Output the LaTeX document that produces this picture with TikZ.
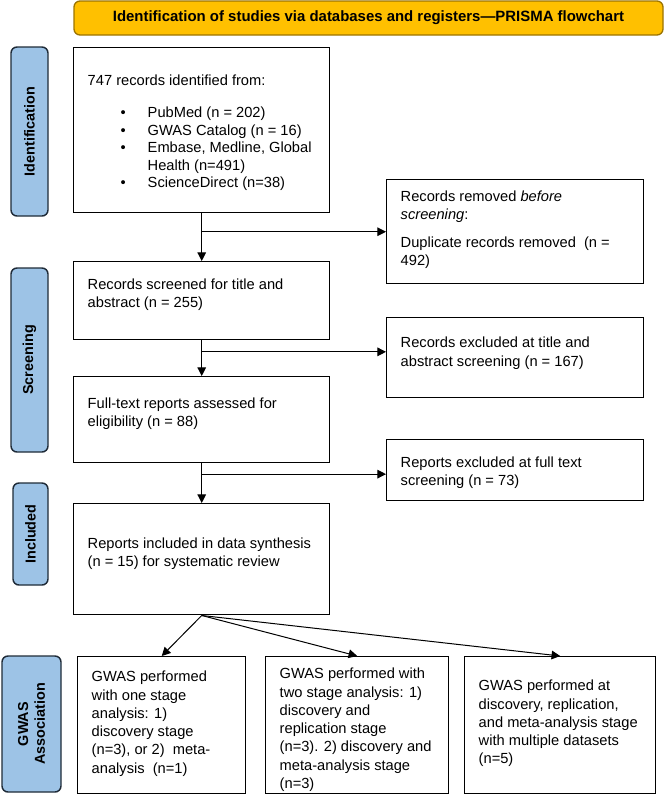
\documentclass[tikz,border=0pt]{standalone}
\usepackage{fontspec}
\setmainfont{Liberation Sans}
\usetikzlibrary{arrows.meta,calc}
\newdimen\pxu \pxu=0.75pt
\definecolor{bannerfill}{HTML}{FFC000}
\definecolor{bannerline}{HTML}{9C7400}
\definecolor{sidefill}{HTML}{9DC3E6}
\definecolor{sideline}{HTML}{1F2B38}
% #1 width px, #2 height px, #3 first baseline px, #4 baselineskip, #5 text
\newcommand{\bxt}[5]{\begin{minipage}[c][#2\pxu][t]{#1\pxu}\fontsize{11}{#4}\selectfont\raggedright\leftskip=14\pxu\vspace*{\dimexpr #3\pxu-\ht\strutbox\relax}\strut #5\end{minipage}}
\newcommand{\bul}[1]{\hspace*{33\pxu}\makebox[27\pxu][l]{\textbullet}#1}
\begin{document}
\begin{tikzpicture}[x=0.75pt,y=-0.75pt,
  flowbox/.style={draw, line width=1.1pt, inner sep=0pt, anchor=north west, rectangle},
  side/.style={draw=sideline, fill=sidefill, line width=1.1pt, rounded corners=6\pxu,
    font=\bfseries\fontsize{10.8}{12.5}\selectfont, align=center, inner sep=0pt, rotate=90},
  banner/.style={draw=bannerline, fill=bannerfill, line width=1pt, rounded corners=6\pxu,
    font=\bfseries\fontsize{11.2}{13}\selectfont, inner sep=0pt},
  arr/.style={-{Triangle[length=6.5pt,width=6.5pt]}, line width=0.75pt}]
\useasboundingbox (0,0) rectangle (666,801);

\node[banner, minimum width=589\pxu, minimum height=34\pxu] (ban) at (368.5,18)
  {Identification of studies via databases and registers—PRISMA flowchart};

\node[side, minimum width=169\pxu, minimum height=37\pxu] (sId) at (29.5,131.5) {Identification};
\node[side, minimum width=184\pxu, minimum height=37\pxu] (sSc) at (29.5,360) {Screening};
\node[side, minimum width=102\pxu, minimum height=35\pxu] (sIn) at (30.5,534) {Included};
\node[side, minimum width=136\pxu, minimum height=59\pxu] (sGw) at (31.5,724) {GWAS\\Association};

\node[flowbox] (b1) at (73,47) {\bxt{256}{165}{38}{13.1pt}{747 records identified from:\\[14.5\pxu]
  \bul{PubMed (n = 202)}\\
  \bul{GWAS Catalog (n = 16)}\\
  \bul{Embase, Medline, Global}\\
  \hspace*{60\pxu}Health (n=491)\\
  \bul{ScienceDirect (n=38)}}};
\node[flowbox] (b2) at (73,261) {\bxt{256}{78}{28}{13.5pt}{Records screened for title and\\abstract (n = 255)}};
\node[flowbox] (b3) at (73,376) {\bxt{256}{86}{32}{13.5pt}{Full-text reports assessed for\\eligibility (n = 88)}};
\node[flowbox] (b4) at (73,503) {\bxt{256}{111}{45}{13.5pt}{Reports included in data synthesis\\(n = 15) for systematic review}};

\node[flowbox] (rm) at (386,179) {\bxt{257}{104}{21.5}{13.5pt}{Records removed \textit{before}\\\textit{screening}:\\[10.5\pxu]
  Duplicate records removed\ \ (n =\\492)}};
\node[flowbox] (ex2) at (386,317) {\bxt{257}{80}{30}{14.2pt}{Records excluded at title and\\abstract screening (n = 167)}};
\node[flowbox] (ex3) at (386,439) {\bxt{257}{61}{27.5}{14pt}{Reports excluded at full text\\screening (n = 73)}};

\node[flowbox] (g1) at (77,656) {\bxt{168}{137}{25}{13.7pt}{GWAS performed\\with one stage\\analysis: 1)\\discovery stage\\(n=3), or 2)\ \ meta-\\analysis\ \ (n=1)}};
\node[flowbox] (g2) at (265,656) {\bxt{183}{137}{22}{13.7pt}{GWAS performed with\\two stage analysis: 1)\\discovery and\\replication stage\\(n=3). 2) discovery and\\meta-analysis stage\\(n=3)}};
\node[flowbox] (g3) at (464,656) {\bxt{191}{137}{34}{13.7pt}{GWAS performed at\\discovery, replication,\\and meta-analysis stage\\with multiple datasets\\(n=5)}};

\draw[arr] (b1.south) -- (b2.north);
\draw[arr] (b1.south |- rm.west) -- (rm.west);
\draw[arr] (b2.south) -- (b3.north);
\coordinate (j2) at ($(b2.south)!0.32!(b3.north)$);
\draw[arr] (j2) -- (j2 -| ex2.west);
\draw[arr] (b3.south) -- (b4.north);
\coordinate (j3) at ($(b3.south)!0.27!(b4.north)$);
\draw[arr] (j3) -- (j3 -| ex3.west);
\draw[arr] (b4.south) -- (g1.north);
\draw[arr] (b4.south) -- (g2.north);
\draw[arr] (b4.south) -- (g3.north);
\end{tikzpicture}
\end{document}
